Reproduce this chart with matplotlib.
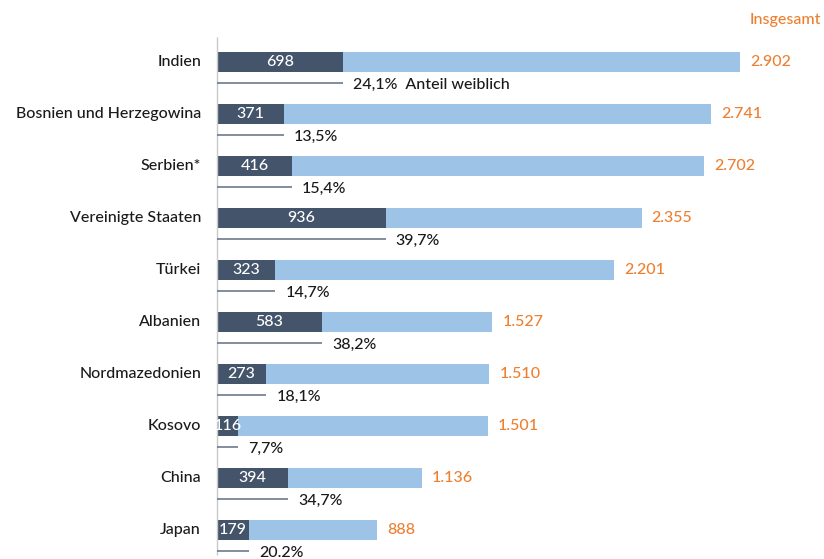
import matplotlib
matplotlib.use("Agg")
import matplotlib.pyplot as plt

plt.rcParams['font.family'] = ['Lato', 'DejaVu Sans']

countries = ["Indien", "Bosnien und Herzegowina", "Serbien*", "Vereinigte Staaten", "Türkei",
             "Albanien", "Nordmazedonien", "Kosovo", "China", "Japan"]
total = [2902, 2741, 2702, 2355, 2201, 1527, 1510, 1501, 1136, 888]
female = [698, 371, 416, 936, 323, 583, 273, 116, 394, 179]
share_labels = ["24,1%", "13,5%", "15,4%", "39,7%", "14,7%", "38,2%", "18,1%", "7,7%", "34,7%", "20.2%"]

DARK = "#44546A"
LIGHT = "#9DC3E6"
ORANGE = "#EE7F2F"
LINE = "#5F6E84"

W, H = 824, 559
fig = plt.figure(figsize=(W / 100, H / 100), dpi=100)
x0 = 217
scale = 0.1803  # px per unit
ax = fig.add_axes([x0 / W, 0, (W - x0) / W, 1])
ax.set_xlim(0, (W - x0) / scale)
row_top, row_step = 62.3, 51.93
ax.set_ylim((H - row_top) / row_step, -row_top / row_step)
ax.axis("off")

px = row_step  # pixels per y unit
bar_h = 20 / px
line_off = 21 / px
txt_off = 23 / px

ax.plot([0, 0], [-25 / px, 9 + 25 / px], color="#C8C8C8", lw=1, solid_capstyle="butt", clip_on=False)

fs = 11.5
fw = "medium"
for i, (c, t, f, s) in enumerate(zip(countries, total, female, share_labels)):
    ax.barh(i, t, height=bar_h, color=LIGHT, left=0)
    ax.barh(i, f, height=bar_h, color=DARK, left=0)
    ax.annotate(c, xy=(0, i), xytext=(-11.5, 0), textcoords="offset points",
                ha="right", va="center", fontsize=fs, fontweight=fw, color="#1a1a1a",
                annotation_clip=False)
    ax.text(f / 2, i, str(f), ha="center", va="center", fontsize=fs, fontweight=fw, color="white")
    ax.annotate(f"{t:,}".replace(",", "."), xy=(t, i), xytext=(7.2, 0), textcoords="offset points",
                ha="left", va="center", fontsize=fs, fontweight=fw, color=ORANGE,
                annotation_clip=False)
    ax.plot([0, f], [i + line_off, i + line_off], color=LINE, lw=1.1, solid_capstyle="butt",
            clip_on=False)
    lab = s + ("  Anteil weiblich" if i == 0 else "")
    ax.annotate(lab, xy=(f, i + txt_off), xytext=(7.2, 0), textcoords="offset points",
                ha="left", va="center", fontsize=fs, fontweight=fw, color="#1a1a1a",
                annotation_clip=False)

fig.text(821 / W, 1 - 20 / H, "Insgesamt", ha="right", va="center", fontsize=fs,
         fontweight=fw, color=ORANGE)

fig.savefig("out.png", dpi=100)
